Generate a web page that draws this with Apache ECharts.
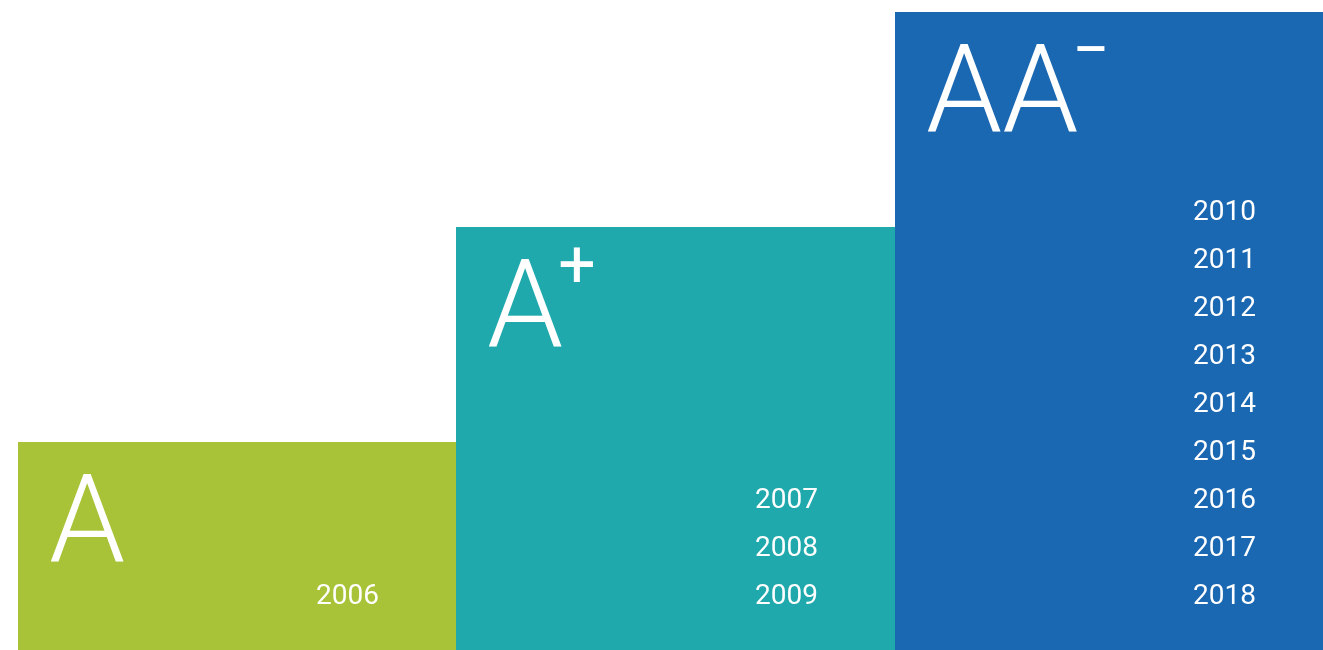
<!DOCTYPE html>
<html>
<head>
<meta charset="utf-8">
<script src="https://cdn.jsdelivr.net/npm/echarts@6/dist/echarts.min.js"></script>
<style>
html,body{margin:0;padding:0;background:#fff;}
#chart{width:1323px;height:650px;}
</style>
</head>
<body>
<div id="chart"></div>
<script>
// ---- data ----
const categories = ['A', 'A+', 'AA-'];
const ratingMain = ['A', 'A', 'AA'];
const ratingSup = ['', '+', '\u2212'];
const ratingLevel = [1, 2, 3];
const years2006 = ['2006'];
const years2007_2009 = ['2007', '2008', '2009'];
const years2010_2018 = ['2010', '2011', '2012', '2013', '2014', '2015', '2016', '2017', '2018'];
const yearGroups = [years2006, years2007_2009, years2010_2018];
const barColors = ['#a8c338', '#1fa9ad', '#1a67b2'];

const chart = echarts.init(document.getElementById('chart'));

const MAIN_FONT = 122;
const SUP_FONT = 66;
const YEAR_FONT = 28;
const YEAR_LINE = 48;
const SUP_X = [0, 121, 196];

function renderItem(params, api) {
  const i = api.value(0);
  const v = api.value(1);
  const topPt = api.coord([i, v]);
  const basePt = api.coord([i, 0]);
  const w = api.size([1, 0])[0];
  const x0 = Math.round(topPt[0] - w / 2);
  const x1 = Math.round(topPt[0] + w / 2);
  const y0 = Math.round(topPt[1]);
  const children = [
    { type: 'rect', shape: { x: x0, y: y0, width: x1 - x0, height: Math.round(basePt[1]) - y0 },
      style: { fill: barColors[i] } },
    { type: 'text', x: x0 + 31, y: y0 + 27,
      style: { text: ratingMain[i], fill: '#fff', fontSize: MAIN_FONT, lineHeight: MAIN_FONT,
               fontFamily: 'Roboto', fontWeight: 300, align: 'left', verticalAlign: 'top' } }
  ];
  if (ratingSup[i]) {
    children.push({ type: 'text', x: x0 + SUP_X[i], y: y0 + 10,
      style: { text: ratingSup[i], fill: '#fff', fontSize: SUP_FONT, lineHeight: SUP_FONT,
               fontFamily: 'Roboto', fontWeight: 400, align: 'center', verticalAlign: 'top' } });
  }
  children.push({ type: 'text', x: x1 - 77, y: basePt[1] - 36,
    style: { text: yearGroups[i].join('\n'), fill: '#fff', fontSize: YEAR_FONT, lineHeight: YEAR_LINE,
             fontFamily: 'Roboto', align: 'right', verticalAlign: 'bottom' } });
  return { type: 'group', children };
}

chart.setOption({
  animation: false,
  grid: { left: 18, top: 12, width: 1315, height: 645, outerBoundsMode: 'none', containLabel: false },
  xAxis: { type: 'category', data: categories, show: false, boundaryGap: true },
  yAxis: { type: 'value', min: 0, max: 3, show: false },
  series: [{
    type: 'custom',
    clip: false,
    renderItem,
    data: ratingLevel.map((v, i) => [i, v])
  }]
});
</script>
</body>
</html>
